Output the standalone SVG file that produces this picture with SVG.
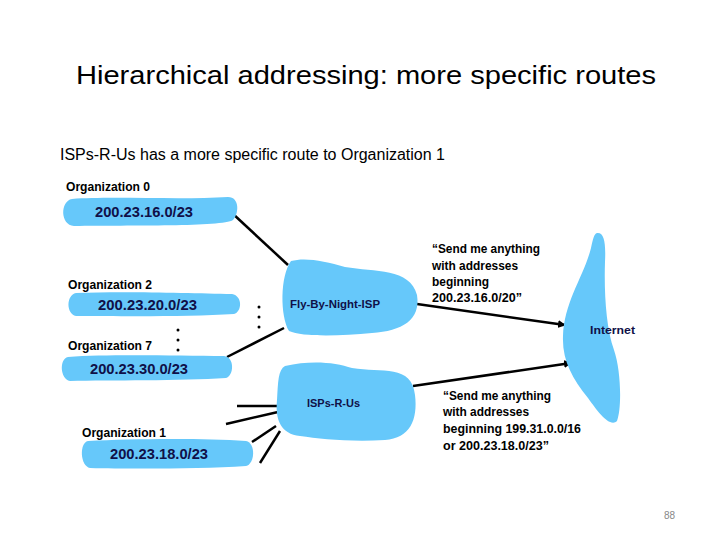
<svg xmlns="http://www.w3.org/2000/svg" width="720" height="540" viewBox="0 0 720 540">
<defs>
<marker id="ah" markerWidth="8" markerHeight="8" refX="7" refY="4" orient="auto" markerUnits="userSpaceOnUse">
<path d="M0,0 L8,4 L0,8 Z" fill="#000"/>
</marker>
<style>
text{font-family:"Liberation Sans",Arial,sans-serif;}
.title{font-size:26px;fill:#000;}
.sub{font-size:16px;fill:#000;}
.org{font-size:12px;fill:#000;font-weight:bold;}
.ip{font-size:14px;fill:#101048;font-weight:bold;}
.isp{font-size:11.5px;fill:#101048;font-weight:bold;}
.q{font-size:12px;fill:#000;font-weight:bold;}
.blob{fill:#66c8fa;stroke:none;}
.ln{stroke:#000;stroke-width:2.5;fill:none;}
.dot{fill:#000;}
</style>
</defs>
<rect width="720" height="540" fill="#fff"/>
<text class="title" x="76" y="84" textLength="580" lengthAdjust="spacingAndGlyphs">Hierarchical addressing: more specific routes</text>
<text class="sub" x="60" y="160" textLength="385" lengthAdjust="spacingAndGlyphs">ISPs-R-Us has a more specific route to Organization 1</text>

<g id="connectors">
<line class="ln" x1="232" y1="213" x2="288" y2="265"/>
<line class="ln" x1="227" y1="357" x2="284" y2="328"/>
<line class="ln" x1="417" y1="304" x2="565" y2="325" marker-end="url(#ah)"/>
<line class="ln" x1="413" y1="386" x2="571" y2="363" marker-end="url(#ah)"/>
<line class="ln" x1="237" y1="406" x2="278" y2="406"/>
<line class="ln" x1="226" y1="424" x2="278" y2="412"/>
<line class="ln" x1="252" y1="442" x2="276" y2="426"/>
<line class="ln" x1="260" y1="463" x2="280" y2="431"/>
<circle class="dot" cx="259" cy="307" r="1.5"/>
<circle class="dot" cx="259" cy="317" r="1.5"/>
<circle class="dot" cx="259" cy="327" r="1.5"/>
<circle class="dot" cx="178" cy="330" r="1.5"/>
<circle class="dot" cx="178" cy="340" r="1.5"/>
<circle class="dot" cx="178" cy="350" r="1.5"/>
</g>

<g id="org0">
<text class="org" x="66" y="191" textLength="84" lengthAdjust="spacingAndGlyphs">Organization 0</text>
<path class="blob" d="M72,199 C110,196 180,200 228,197 C240,197 239,214 233,220 C222,227 130,225 74,226 C60,225 60,201 72,199 Z"/>
<text class="ip" x="95" y="217" textLength="98" lengthAdjust="spacingAndGlyphs">200.23.16.0/23</text>
</g>

<g id="org2">
<text class="org" x="68" y="289" textLength="84" lengthAdjust="spacingAndGlyphs">Organization 2</text>
<path class="blob" d="M76,293 C120,291 190,293 232,294 C243,296 242,312 234,314 C190,317 120,316 76,316 C66,314 66,295 76,293 Z"/>
<text class="ip" x="98" y="310" textLength="99" lengthAdjust="spacingAndGlyphs">200.23.20.0/23</text>
</g>

<g id="org7">
<text class="org" x="68" y="350" textLength="84" lengthAdjust="spacingAndGlyphs">Organization 7</text>
<path class="blob" d="M68,357 C110,354 180,356 224,356 C235,357 234,376 226,378 C180,381 110,380 70,381 C60,379 59,359 68,357 Z"/>
<text class="ip" x="90" y="374" textLength="98" lengthAdjust="spacingAndGlyphs">200.23.30.0/23</text>
</g>

<g id="org1">
<text class="org" x="82" y="437" textLength="84" lengthAdjust="spacingAndGlyphs">Organization 1</text>
<path class="blob" d="M88,441 C130,439 200,438 246,441 C256,443 255,464 246,466 C200,469 130,469 90,468 C80,466 79,443 88,441 Z"/>
<text class="ip" x="110" y="459" textLength="98" lengthAdjust="spacingAndGlyphs">200.23.18.0/23</text>
</g>

<g id="flybynight">
<path class="blob" d="M291,261 C305,257 325,261 345,267 C375,272 410,268 417,295 C421,320 402,331 372,333 C340,336 302,337 289,331 C280,316 280,276 291,261 Z"/>
<text class="isp" x="290" y="308" textLength="90" lengthAdjust="spacingAndGlyphs">Fly-By-Night-ISP</text>
</g>

<g id="ispsrus">
<path class="blob" d="M285,366 C310,360 335,362 352,368 C382,373 412,364 415,395 C418,420 410,438 385,440 C350,442 320,439 300,436 C281,434 275,420 277,400 C278,382 278,370 285,366 Z"/>
<text class="isp" x="307" y="407" textLength="53" lengthAdjust="spacingAndGlyphs">ISPs-R-Us</text>
</g>

<g id="internet">
<path class="blob" d="M597,233 C604,232 606,242 605,262 C604,292 606,328 614,350 C621,370 622,408 617,421 C610,428 598,412 588,398 C572,378 562,360 563,336 C564,302 584,276 591,248 C593,239 594,234 597,233 Z"/>
<text class="isp" x="590" y="334" textLength="45" lengthAdjust="spacingAndGlyphs">Internet</text>
</g>

<g id="quote1">
<text class="q" x="432" y="253" textLength="108" lengthAdjust="spacingAndGlyphs">“Send me anything</text>
<text class="q" x="432" y="270" textLength="86" lengthAdjust="spacingAndGlyphs">with addresses</text>
<text class="q" x="432" y="286" textLength="57" lengthAdjust="spacingAndGlyphs">beginning</text>
<text class="q" x="432" y="302" textLength="90" lengthAdjust="spacingAndGlyphs">200.23.16.0/20”</text>
</g>

<g id="quote2">
<text class="q" x="443" y="400" textLength="108" lengthAdjust="spacingAndGlyphs">“Send me anything</text>
<text class="q" x="443" y="416" textLength="86" lengthAdjust="spacingAndGlyphs">with addresses</text>
<text class="q" x="443" y="433" textLength="138" lengthAdjust="spacingAndGlyphs">beginning 199.31.0.0/16</text>
<text class="q" x="443" y="450" textLength="106" lengthAdjust="spacingAndGlyphs">or 200.23.18.0/23”</text>
</g>

<text x="664" y="519" style="font-size:10px;fill:#888;">88</text>
</svg>
